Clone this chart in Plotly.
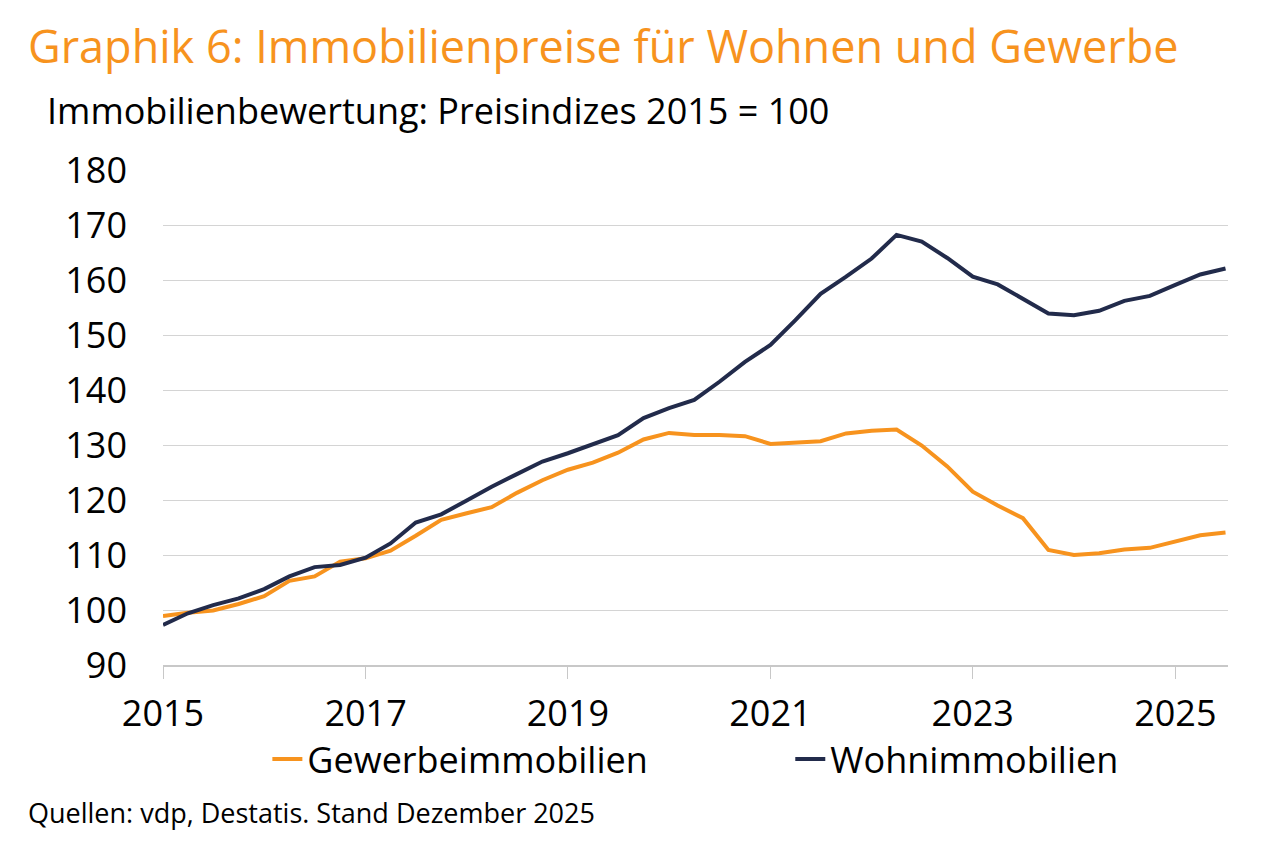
import pandas as pd
import plotly.graph_objects as go

# quarterly observations, 2015 Q1 .. 2025 Q3
quarters = pd.date_range("2015-01-01", periods=43, freq="QS")

gewerbe = [
    98.9, 99.5, 99.9, 101.1, 102.5, 105.3, 106.1, 108.8, 109.4, 110.8,
    113.5, 116.4, 117.6, 118.7, 121.3, 123.6, 125.5, 126.8, 128.6, 131.0,
    132.2, 131.8, 131.8, 131.6, 130.2, 130.4, 130.7, 132.1, 132.6, 132.8,
    129.9, 126.1, 121.5, 119.0, 116.7, 110.9, 110.0, 110.3, 111.0, 111.3,
    112.4, 113.6, 114.1,
]
wohnen = [
    97.3, 99.4, 100.9, 102.1, 103.8, 106.1, 107.8, 108.2, 109.5, 112.1,
    115.9, 117.4, 119.9, 122.4, 124.7, 127.0, 128.5, 130.2, 131.8, 134.9,
    136.7, 138.2, 141.5, 145.1, 148.2, 152.7, 157.5, 160.6, 163.9, 168.2,
    167.0, 164.0, 160.6, 159.2, 156.5, 153.9, 153.6, 154.4, 156.2, 157.1,
    159.1, 161.0, 162.1,
]

year_ticks = ["2015-01-01", "2017-01-01", "2019-01-01", "2021-01-01", "2023-01-01", "2025-01-01"]
year_labels = ["2015", "2017", "2019", "2021", "2023", "2025"]

ORANGE = "#F7931E"
NAVY = "#222B4B"
FONT = "Open Sans"

fig = go.Figure()

fig.add_trace(
    go.Scatter(
        x=quarters,
        y=gewerbe,
        name="Gewerbeimmobilien",
        mode="lines",
        line=dict(color=ORANGE, width=4),
        legend="legend",
        showlegend=True,
    )
)
fig.add_trace(
    go.Scatter(
        x=quarters,
        y=wohnen,
        name="Wohnimmobilien",
        mode="lines",
        line=dict(color=NAVY, width=4),
        legend="legend2",
        showlegend=True,
    )
)

legend_style = dict(
    orientation="h",
    yanchor="middle",
    y=-0.19,
    xanchor="left",
    font=dict(size=36),
    bgcolor="rgba(0,0,0,0)",
)

fig.update_layout(
    width=1280,
    height=849,
    template="simple_white",
    paper_bgcolor="white",
    plot_bgcolor="white",
    showlegend=True,
    margin=dict(l=155, r=60, t=162, b=192),
    font=dict(family=FONT, color="black", size=36),
    legend=dict(x=0.098, **legend_style),
    legend2=dict(x=0.589, **legend_style),
)

fig.update_xaxes(
    type="date",
    range=["2015-01-01", "2025-07-10"],
    tickvals=year_ticks,
    ticktext=year_labels,
    showgrid=False,
    showline=True,
    linecolor="#C8C8C8",
    linewidth=1.5,
    ticks="outside",
    ticklen=12,
    tickcolor="#C8C8C8",
    tickfont=dict(size=36),
    ticklabelstandoff=4,
)

fig.update_yaxes(
    range=[90, 180],
    dtick=10,
    showgrid=True,
    gridcolor="#D4D4D4",
    gridwidth=1.3,
    showline=False,
    ticks="",
    tickfont=dict(size=36),
    ticklabelstandoff=35,
)

fig.add_annotation(
    text="Graphik 6: Immobilienpreise für Wohnen und Gewerbe",
    xref="paper", yref="paper",
    x=-0.129, y=1.252, xanchor="left", yanchor="middle",
    showarrow=False,
    font=dict(size=45, color=ORANGE),
)
fig.add_annotation(
    text="Immobilienbewertung: Preisindizes 2015 = 100",
    xref="paper", yref="paper",
    x=-0.111, y=1.121, xanchor="left", yanchor="middle",
    showarrow=False,
    font=dict(size=36, color="black"),
)
fig.add_annotation(
    text="Quellen: vdp, Destatis. Stand Dezember 2025",
    xref="paper", yref="paper",
    x=-0.129, y=-0.297, xanchor="left", yanchor="middle",
    showarrow=False,
    font=dict(size=27, color="black"),
)

fig.write_html("out.html")
